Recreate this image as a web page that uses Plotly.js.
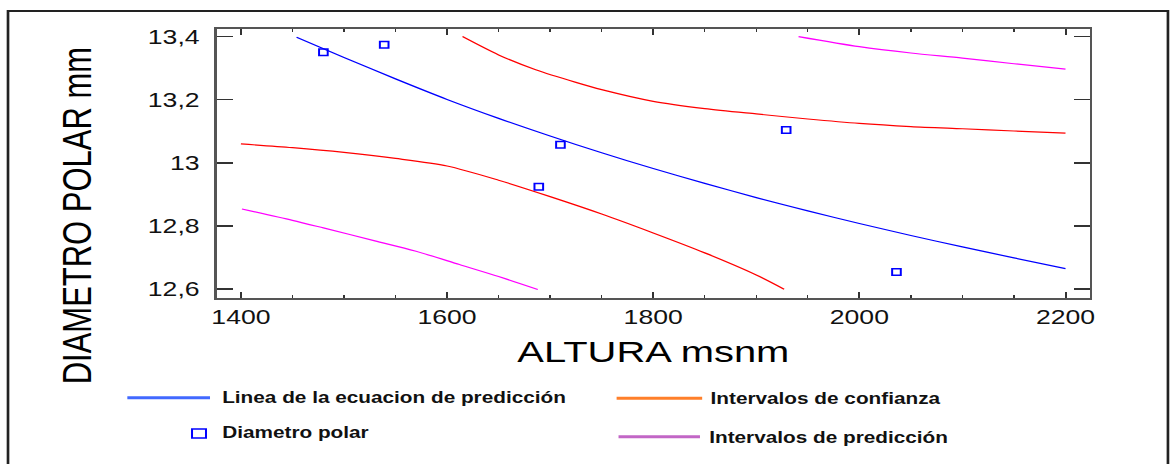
<!DOCTYPE html>
<html>
<head>
<meta charset="utf-8">
<script src="https://cdn.plot.ly/plotly-3.0.1.min.js"></script>
<style>
  html, body { margin: 0; padding: 0; background: #fff; overflow: hidden; }
  #wrap { width: 880px; height: 464px; transform: scaleX(1.33068); transform-origin: 0 0; }
</style>
</head>
<body>
<div id="wrap"><div id="chart"></div></div>
<script>
// ---- data ----
const predX = [1454, 1500, 1550, 1600, 1650, 1700, 1750, 1800, 1850, 1900, 1950, 2000, 2050, 2100, 2150, 2200];
const predY = [13.398, 13.334, 13.266, 13.201, 13.141, 13.085, 13.032, 12.982, 12.935, 12.890, 12.848, 12.808, 12.770, 12.734, 12.699, 12.665];

const confUpX = [1615, 1650, 1686, 1725, 1750, 1800, 1850, 1900, 1950, 2000, 2050, 2100, 2150, 2200];
const confUpY = [13.40, 13.342, 13.295, 13.255, 13.232, 13.195, 13.172, 13.155, 13.139, 13.125, 13.115, 13.108, 13.101, 13.094];

const confLoX = [1400, 1450, 1500, 1550, 1600, 1650, 1700, 1750, 1800, 1850, 1900, 1927];
const confLoY = [13.06, 13.048, 13.033, 13.014, 12.99, 12.945, 12.893, 12.838, 12.778, 12.715, 12.645, 12.60];

const predUpX = [1941, 2000, 2050, 2100, 2150, 2200];
const predUpY = [13.40, 13.368, 13.348, 13.332, 13.314, 13.297];

const predLoX = [1401, 1450, 1480, 1530, 1569, 1612, 1650, 1688];
const predLoY = [12.854, 12.818, 12.794, 12.753, 12.721, 12.678, 12.64, 12.599];

const ptsX = [1480, 1539, 1689, 1710, 1929, 2036];
const ptsY = [13.35, 13.374, 12.924, 13.057, 13.104, 12.654];

const xTickVals = [1400, 1600, 1800, 2000, 2200];
const xTickText = ['1400', '1600', '1800', '2000', '2200'];
const yTickVals = [12.6, 12.8, 13, 13.2, 13.4];
const yTickText = ['12,6', '12,8', '13', '13,2', '13,4'];

const xTitle = 'ALTURA msnm';
const yTitle = 'DIAMETRO POLAR mm';
const legendLabels = ['Linea de la ecuacion de predicción', 'Diametro polar', 'Intervalos de confianza', 'Intervalos de predicción'];
const legendColors = ['#4169ff', '#0000ff', '#ff7f2a', '#c266c6'];

// ---- traces ----
const lineW = 1.2;
function curve(x, y, name, color) {
  return {x: x, y: y, mode: 'lines', name: name, line: {color: color, width: lineW, shape: 'spline', smoothing: 0.8}, showlegend: false, hoverinfo: 'skip'};
}
const traces = [
  curve(predX, predY, legendLabels[0], '#0000ff'),
  curve(confUpX, confUpY, legendLabels[2], '#ff0000'),
  curve(confLoX, confLoY, legendLabels[2], '#ff0000'),
  curve(predUpX, predUpY, legendLabels[3], '#ff00ff'),
  curve(predLoX, predLoY, legendLabels[3], '#ff00ff'),
  {x: ptsX, y: ptsY, mode: 'markers', name: legendLabels[1], marker: {symbol: 'square-open', size: 6.5, color: '#0000ff', line: {width: 1.5, color: '#0000ff'}}, showlegend: false, hoverinfo: 'skip'}
];

const legFont = {family: 'Liberation Sans, Arial, sans-serif', size: 15.6, color: '#111'};
function legText(txt, x, y) {
  return {text: '<b>' + txt + '</b>', xref: 'paper', yref: 'paper', x: x, y: y, xanchor: 'left', yanchor: 'middle', showarrow: false, font: legFont};
}
function legLine(x0, x1, y, color) {
  return {type: 'line', xref: 'paper', yref: 'paper', x0: x0, x1: x1, y0: y, y1: y, line: {color: color, width: 3}};
}

const layout = {
  width: 880,
  height: 464,
  margin: {l: 163, r: 61, t: 29, b: 166},
  paper_bgcolor: '#ffffff',
  plot_bgcolor: '#ffffff',
  showlegend: false,
  font: {family: 'Liberation Sans, Arial, sans-serif', color: '#111'},
  xaxis: {
    range: [1376.7, 2223.6],
    tickvals: xTickVals, ticktext: xTickText,
    ticks: 'inside', ticklen: 6, tickwidth: 1.5, tickcolor: '#333',
    minor: {dtick: 50, tick0: 1400, ticks: 'inside', ticklen: 3, tickwidth: 1, tickcolor: '#333', showgrid: false},
    showline: true, linecolor: '#555', linewidth: 2, mirror: 'ticks',
    showgrid: false, zeroline: false,
    tickfont: {size: 20, color: '#111'},
    title: {text: xTitle, font: {size: 30, color: '#000'}, standoff: 14}
  },
  yaxis: {
    range: [12.572, 13.424],
    tickvals: yTickVals, ticktext: yTickText,
    ticks: 'inside', ticklen: 12, tickwidth: 1.5, tickcolor: '#333',
    showline: true, linecolor: '#555', linewidth: 2, mirror: 'ticks',
    showgrid: false, zeroline: false,
    tickfont: {size: 20, color: '#111'},
    ticklabelstandoff: 7
  },
  annotations: [
    {text: yTitle, xref: 'paper', yref: 'paper', x: -0.1602, y: 0.3067, xanchor: 'center', yanchor: 'middle', textangle: -90, showarrow: false, font: {size: 31, color: '#000'}},
    legText(legendLabels[0], 0.0035, -0.3699),
    legText(legendLabels[1], 0.0035, -0.5),
    legText(legendLabels[2], 0.563, -0.3725),
    legText(legendLabels[3], 0.5611, -0.5186)
  ],
  shapes: [
    {type: 'rect', xref: 'paper', yref: 'paper', x0: -0.2393, x1: 1.0895, y0: -0.639, y1: 1.0669, line: {color: '#222', width: 2}, fillcolor: 'rgba(0,0,0,0)'},
    legLine(-0.1026, -0.0079, -0.3706, legendColors[0]),
    {type: 'rect', xref: 'paper', yref: 'paper', x0: -0.0285, x1: -0.0125, y0: -0.5204, y1: -0.487, line: {color: legendColors[1], width: 1.5}, fillcolor: 'rgba(0,0,0,0)'},
    legLine(0.4579, 0.5559, -0.3729, legendColors[2]),
    legLine(0.4601, 0.5534, -0.5156, legendColors[3])
  ]
};

Plotly.newPlot('chart', traces, layout, {staticPlot: true, displayModeBar: false});
</script>
</body>
</html>
